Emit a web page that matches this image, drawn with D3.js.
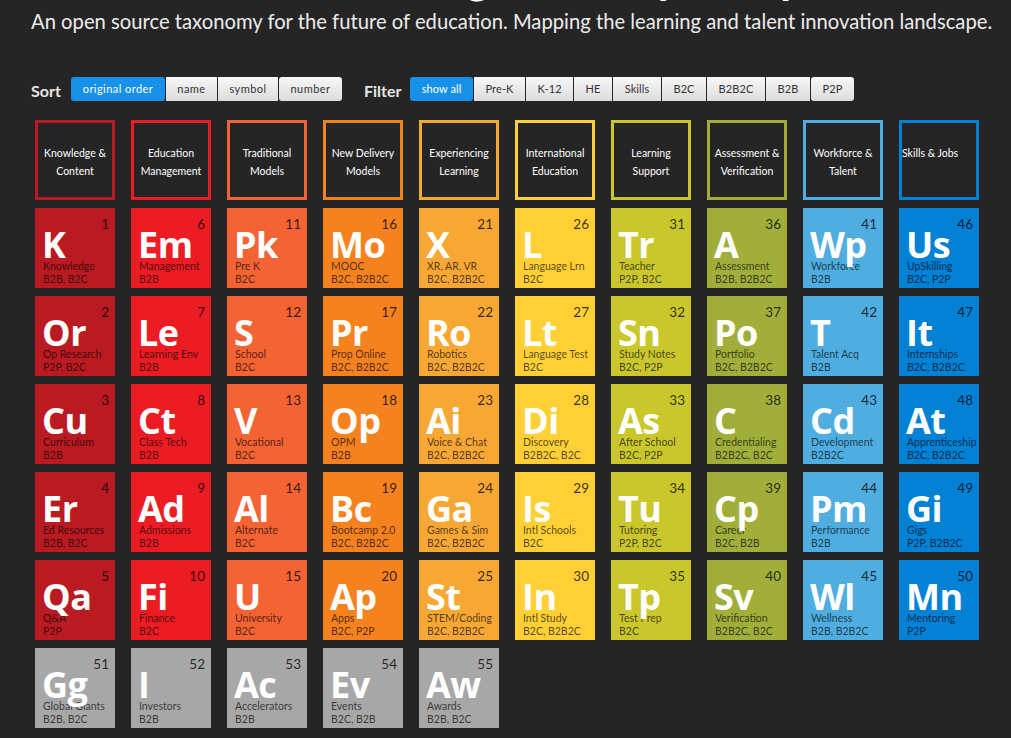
<!DOCTYPE html>
<html>
<head>
<meta charset="utf-8">
<script src="https://cdn.jsdelivr.net/npm/d3@7"></script>
<style>
  html, body { margin: 0; padding: 0; background: #262525; }
  svg { display: block; }
</style>
</head>
<body>
<svg id="chart" width="1011" height="738"></svg>
<script>
// ---------- DATA ----------
const titleText = "Global Learning Landscape Map";
const subtitleText = "An open source taxonomy for the future of education. Mapping the learning and talent innovation landscape.";
const sortButtons = ["original order", "name", "symbol", "number"];
const filterButtons = ["show all", "Pre-K", "K-12", "HE", "Skills", "B2C", "B2B2C", "B2B", "P2P"];

const categories = ["Knowledge & Content", "Education Management", "Traditional Models", "New Delivery Models",
  "Experiencing Learning", "International Education", "Learning Support", "Assessment & Verification",
  "Workforce & Talent", "Skills & Jobs"];
const categoryLines = [["Knowledge &", "Content"], ["Education", "Management"], ["Traditional", "Models"],
  ["New Delivery", "Models"], ["Experiencing", "Learning"], ["International", "Education"], ["Learning", "Support"],
  ["Assessment &", "Verification"], ["Workforce &", "Talent"], ["Skills & Jobs"]];

// each column top->bottom
const symbols = [
  ["K", "Or", "Cu", "Er", "Qa", "Gg"],
  ["Em", "Le", "Ct", "Ad", "Fi", "I"],
  ["Pk", "S", "V", "Al", "U", "Ac"],
  ["Mo", "Pr", "Op", "Bc", "Ap", "Ev"],
  ["X", "Ro", "Ai", "Ga", "St", "Aw"],
  ["L", "Lt", "Di", "Is", "In"],
  ["Tr", "Sn", "As", "Tu", "Tp"],
  ["A", "Po", "C", "Cp", "Sv"],
  ["Wp", "T", "Cd", "Pm", "Wl"],
  ["Us", "It", "At", "Gi", "Mn"]
];
const names = [
  ["Knowledge", "Op Research", "Curriculum", "Ed Resources", "Q&A", "Global Giants"],
  ["Management", "Learning Env", "Class Tech", "Admissions", "Finance", "Investors"],
  ["Pre K", "School", "Vocational", "Alternate", "University", "Accelerators"],
  ["MOOC", "Prop Online", "OPM", "Bootcamp 2.0", "Apps", "Events"],
  ["XR, AR, VR", "Robotics", "Voice & Chat", "Games & Sim", "STEM/Coding", "Awards"],
  ["Language Lrn", "Language Test", "Discovery", "Intl Schools", "Intl Study"],
  ["Teacher", "Study Notes", "After School", "Tutoring", "Test Prep"],
  ["Assessment", "Portfolio", "Credentialing", "Career", "Verification"],
  ["Workforce", "Talent Acq", "Development", "Performance", "Wellness"],
  ["UpSkilling", "Internships", "Apprenticeship", "Gigs", "Mentoring"]
];
const types = [
  ["B2B, B2C", "P2P, B2C", "B2B", "B2B, B2C", "P2P", "B2B, B2C"],
  ["B2B", "B2B", "B2B", "B2B", "B2C", "B2B"],
  ["B2C", "B2C", "B2C", "B2C", "B2C", "B2B"],
  ["B2C, B2B2C", "B2C, B2B2C", "B2B", "B2C, B2B2C", "B2C, P2P", "B2C, B2B"],
  ["B2C, B2B2C", "B2C, B2B2C", "B2C, B2B2C", "B2C, B2B2C", "B2C, B2B2C", "B2B, B2C"],
  ["B2C", "B2C", "B2B2C, B2C", "B2C", "B2C, B2B2C"],
  ["P2P, B2C", "B2C, P2P", "B2C, P2P", "P2P, B2C", "B2C"],
  ["B2B, B2B2C", "B2C, B2B2C", "B2B2C, B2C", "B2C, B2B", "B2B2C, B2C"],
  ["B2B", "B2B", "B2B2C", "B2B", "B2B, B2B2C"],
  ["B2C, P2P", "B2C, B2B2C", "B2C, B2B2C", "P2P, B2B2C", "P2P"]
];
const numbers = [
  [1, 2, 3, 4, 5, 51],
  [6, 7, 8, 9, 10, 52],
  [11, 12, 13, 14, 15, 53],
  [16, 17, 18, 19, 20, 54],
  [21, 22, 23, 24, 25, 55],
  [26, 27, 28, 29, 30],
  [31, 32, 33, 34, 35],
  [36, 37, 38, 39, 40],
  [41, 42, 43, 44, 45],
  [46, 47, 48, 49, 50]
];
const categoryColors = ["#BA1A21", "#EC1C24", "#F36334", "#F6821F", "#F7A734",
  "#FED035", "#C9C72B", "#A2AE3A", "#4FADE0", "#0381D5"];
const otherColor = "#A7A7A7";

// ---------- LAYOUT ----------
const svg = d3.select("#chart");
const W = 1011, H = 738;
const FONT = "Lato, 'Open Sans', sans-serif";
const SYMFONT = "'Open Sans', Lato, sans-serif";

svg.append("rect").attr("width", W).attr("height", H).attr("fill", "#262525");

// Title (cut off at the top, only descenders visible)
const title = svg.append("text")
  .attr("y", -6.5)
  .attr("font-family", FONT).attr("font-weight", 700).attr("font-size", 44)
  .attr("fill", "#ffffff").text(titleText);
{
  const gi = titleText.indexOf("g ");
  const off = title.node().getSubStringLength(0, gi);
  title.attr("x", 466 - off);
}

// Subtitle fitted to its width
const sub = svg.append("text")
  .attr("x", 31).attr("y", 29)
  .attr("font-family", FONT).attr("font-weight", 400).attr("font-size", 22)
  .attr("fill", "#ececec").text(subtitleText);
{
  const w = sub.node().getComputedTextLength();
  sub.attr("font-size", 22 * 962 / w);
}

// Buttons
const defs = svg.append("defs");
const grad = defs.append("linearGradient").attr("id", "btnGrad").attr("x1", 0).attr("y1", 0).attr("x2", 0).attr("y2", 1);
grad.append("stop").attr("offset", "0%").attr("stop-color", "#f7f7f7");
grad.append("stop").attr("offset", "100%").attr("stop-color", "#dcdcdc");

function buttonGroup(label, labelX, startX, items, spacing) {
  svg.append("text").attr("x", labelX).attr("y", 97)
    .attr("font-family", FONT).attr("font-weight", 700).attr("font-size", 16)
    .attr("fill", "#e6e6e6").text(label);
  let x = startX;
  const g = svg.append("g");
  items.forEach((t, i) => {
    const tmp = g.append("text").attr("font-family", FONT).attr("font-size", 11)
      .attr("letter-spacing", spacing).text(t);
    const tw = tmp.node().getComputedTextLength();
    tmp.remove();
    const bw = Math.round(tw + 23);
    const active = i === 0;
    g.append("rect").attr("x", x).attr("y", 77).attr("width", bw).attr("height", 24)
      .attr("rx", (i === 0 || i === items.length - 1) ? 3 : 0)
      .attr("fill", active ? "#1791E8" : "url(#btnGrad)");
    g.append("text").attr("x", x + bw / 2).attr("y", 93).attr("text-anchor", "middle")
      .attr("font-family", FONT).attr("font-size", 11).attr("letter-spacing", spacing)
      .attr("fill", active ? "#ffffff" : "#333333").text(t);
    x += bw + 1;
  });
}

buttonGroup("Sort", 31, 71, sortButtons, 0.45);
buttonGroup("Filter", 364, 410, filterButtons, 0.1);

// Grid scales
const x = d3.scaleBand().domain(d3.range(categories.length)).range([35, 979]).paddingInner(1 / 6).paddingOuter(0);
const rowKeys = ["header", 0, 1, 2, 3, 4, 5];
const y = d3.scaleBand().domain(rowKeys).range([120, 728]).paddingInner(1 / 11).paddingOuter(0);
const bw = x.bandwidth(), bh = y.bandwidth();

// Headers
const hdr = svg.append("g").selectAll("g").data(categories).join("g")
  .attr("transform", (d, i) => `translate(${x(i)},${y("header")})`);
hdr.append("rect").attr("x", 1.5).attr("y", 1.5).attr("width", bw - 3).attr("height", bh - 3)
  .attr("fill", "#262525").attr("stroke", (d, i) => categoryColors[i]).attr("stroke-width", 3);
hdr.each(function (d, i) {
  const lines = categoryLines[i];
  const g = d3.select(this);
  lines.forEach((ln, k) => {
    const single = lines.length === 1;
    g.append("text")
      .attr("x", single ? 3 : bw / 2)
      .attr("y", 37 + k * 18)
      .attr("text-anchor", single ? "start" : "middle")
      .attr("font-family", FONT).attr("font-size", 10.5)
      .attr("fill", "#ffffff").text(ln);
  });
});

// Tiles
const tiles = [];
symbols.forEach((col, c) => col.forEach((s, r) => tiles.push({
  c, r, symbol: s, name: names[c][r], type: types[c][r], num: numbers[c][r]
})));

const tg = svg.append("g").selectAll("g").data(tiles).join("g")
  .attr("transform", d => `translate(${x(d.c)},${y(d.r)})`);
tg.append("rect").attr("width", bw).attr("height", bh)
  .attr("fill", d => d.r === 5 ? otherColor : categoryColors[d.c]);
tg.append("text").attr("x", bw - 6).attr("y", 21).attr("text-anchor", "end")
  .attr("font-family", FONT).attr("font-size", 13.5).attr("fill", "rgba(0,0,0,0.78)")
  .text(d => d.num);
tg.append("text").attr("x", 8).attr("y", 62)
  .attr("font-family", FONT).attr("font-size", 10.5).attr("fill", "rgba(0,0,0,0.68)")
  .text(d => d.name);
tg.append("text").attr("x", 8).attr("y", 75)
  .attr("font-family", FONT).attr("font-size", 10.5).attr("fill", "rgba(0,0,0,0.68)")
  .text(d => d.type);
tg.append("text").attr("x", 7).attr("y", 50)
  .attr("font-family", SYMFONT).attr("font-weight", 700).attr("font-size", 36)
  .attr("letter-spacing", -0.5)
  .attr("fill", "#ffffff").text(d => d.symbol);
</script>
</body>
</html>
